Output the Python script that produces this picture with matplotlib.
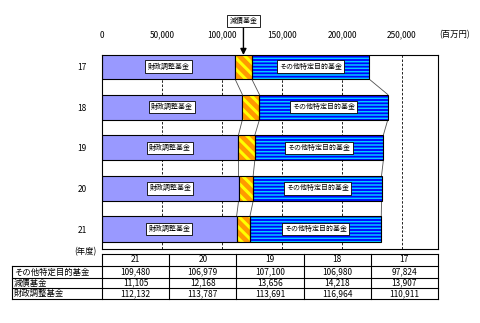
import matplotlib.pyplot as plt
import numpy as np

plt.rcParams['font.family'] = ['Noto Sans CJK JP', 'DejaVu Sans']

# 年度ごとの基金残高（百万円）
years = ['17', '18', '19', '20', '21']
fiscal = [110911, 116964, 113691, 113787, 112132]   # 財政調整基金
debt = [13907, 14218, 13656, 12168, 11105]          # 減債基金
other = [97824, 106980, 107100, 106979, 109480]     # その他特定目的基金

table_years = ['21', '20', '19', '18', '17']
row_names = ['その他特定目的基金', '減債基金', '財政調整基金']

fiscal = np.array(fiscal)
debt = np.array(debt)
other = np.array(other)
left2 = fiscal + debt
total = left2 + other

fig = plt.figure(figsize=(4.8, 3.23), dpi=100)
W, H = 480, 323
ax = fig.add_axes([102 / W, (H - 249) / H, 336 / W, 194 / H])

y = np.arange(len(years))
h = 0.62

ax.barh(y, fiscal, height=h, color='#9999FF', edgecolor='black', lw=0.8, zorder=2)

# 減債基金: オレンジ地に黄色の斜線
b = ax.barh(y, debt, left=fiscal, height=h, color='#FF9900', edgecolor='#FFFF00',
            hatch='\\\\\\', lw=0, zorder=2)
for p in b:
    if hasattr(p, 'set_hatch_linewidth'):
        p.set_hatch_linewidth(2.2)
ax.barh(y, debt, left=fiscal, height=h, fill=False, edgecolor='black', lw=0.8, zorder=3)

# その他特定目的基金: 青地に水色の横縞
b = ax.barh(y, other, left=left2, height=h, color='#0000FF', edgecolor='#00CCFF',
            hatch='-----', lw=0, zorder=2)
for p in b:
    if hasattr(p, 'set_hatch_linewidth'):
        p.set_hatch_linewidth(1.1)
ax.barh(y, other, left=left2, height=h, fill=False, edgecolor='black', lw=0.8, zorder=3)

# 区分線
for i in range(len(years) - 1):
    for edge in (fiscal, left2, total):
        ax.plot([edge[i], edge[i + 1]], [i + h / 2, i + 1 - h / 2],
                color='#505050', lw=0.6, zorder=1)

# 棒の中のラベル
for i in range(len(years)):
    ax.text(fiscal[i] / 2, i, '財政調整基金', ha='center', va='center', fontsize=5,
            bbox=dict(facecolor='white', edgecolor='black', lw=0.6, pad=1.5), zorder=4)
    ax.text(left2[i] + other[i] / 2, i, 'その他特定目的基金', ha='center', va='center',
            fontsize=5, bbox=dict(facecolor='white', edgecolor='black', lw=0.6, pad=1.5),
            zorder=4)

ax.annotate('減債基金', xy=(fiscal[0] + debt[0] / 2, -0.283),
            xytext=(0, 34), textcoords='offset pixels', ha='center', va='center',
            fontsize=5, bbox=dict(facecolor='white', edgecolor='black', lw=0.6, pad=1.5),
            arrowprops=dict(arrowstyle='-|>', color='black', lw=1, mutation_scale=9,
                            shrinkA=0, shrinkB=0),
            annotation_clip=False, zorder=5)

ax.set_xlim(0, 280000)
ax.set_ylim(4.49, -0.283)
ax.set_xticks(np.arange(0, 250001, 50000))
ax.set_xticklabels(['{:,}'.format(v) for v in range(0, 250001, 50000)], fontsize=6)
ax.xaxis.tick_top()
ax.tick_params(axis='x', length=0, pad=11)
ax.set_yticks(y)
ax.set_yticklabels(years, fontsize=6)
ax.tick_params(axis='y', length=0, pad=11)
ax.grid(axis='x', color='black', ls=(0, (3, 2)), lw=0.6)
ax.set_axisbelow(True)
for s in ax.spines.values():
    s.set_linewidth(0.8)

fig.text(455 / W, 1 - 35 / H, '(百万円)', ha='center', va='center', fontsize=6)
fig.text(85 / W, 1 - 252 / H, '(年度)', ha='center', va='center', fontsize=6)

# 下の表
tax = fig.add_axes([0, 0, 1, 1])
tax.set_xlim(0, W)
tax.set_ylim(H, 0)
tax.axis('off')

x0, x1, x2 = 12, 102, 438
col_w = (x2 - x1) / len(table_years)
rows_y = [254, 266, 277.7, 288.3, 299.3]
table_rows = [other[::-1], debt[::-1], fiscal[::-1]]

lc = dict(color='black', lw=0.8)
tax.plot([x1, x2], [rows_y[0], rows_y[0]], **lc)
for yy in rows_y[1:]:
    tax.plot([x0, x2], [yy, yy], **lc)
tax.plot([x0, x0], [rows_y[1], rows_y[-1]], **lc)
for k in range(len(table_years) + 1):
    xx = x1 + k * col_w
    tax.plot([xx, xx], [rows_y[0], rows_y[-1]], **lc)

for k, yr in enumerate(table_years):
    tax.text(x1 + (k + 0.5) * col_w, (rows_y[0] + rows_y[1]) / 2, yr,
             ha='center', va='center', fontsize=6)
for r, (name, vals) in enumerate(zip(row_names, table_rows)):
    yc = (rows_y[r + 1] + rows_y[r + 2]) / 2
    tax.text(x0 + 2, yc, name, ha='left', va='center', fontsize=6)
    for k, v in enumerate(vals):
        tax.text(x1 + (k + 0.5) * col_w, yc, '{:,}'.format(v),
                 ha='center', va='center', fontsize=6)

fig.savefig('out.png', dpi=100)
